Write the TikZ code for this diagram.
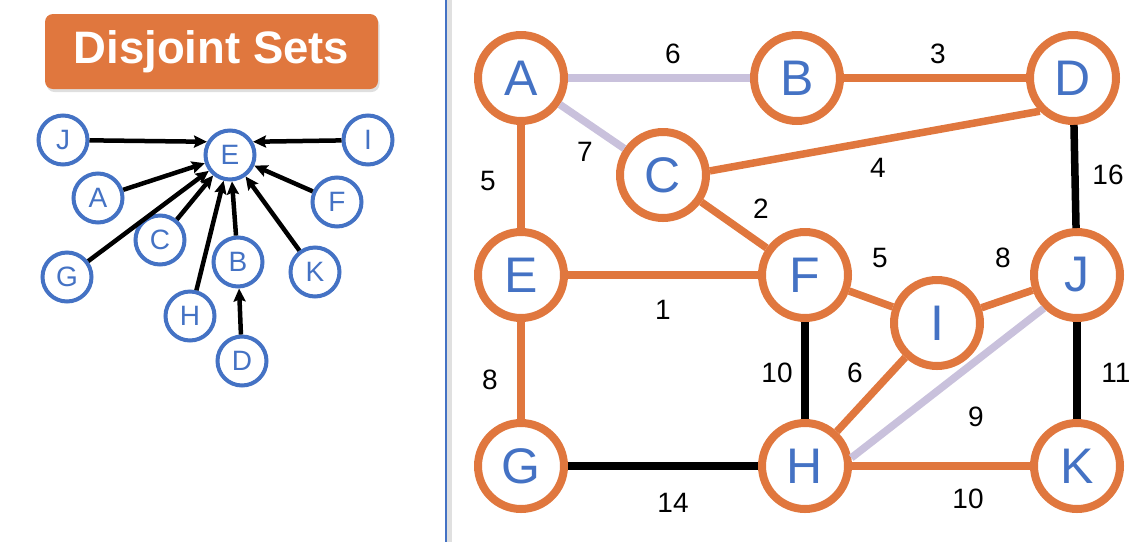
\documentclass[tikz,border=0pt]{standalone}
\usepackage{fontspec}
\setmainfont{Liberation Sans}
\usepackage{xcolor}
\usetikzlibrary{arrows.meta,shadows}
\definecolor{djorange}{RGB}{224,119,62}
\definecolor{djblue}{RGB}{68,114,196}
\definecolor{djlav}{RGB}{201,193,220}

\begin{document}
\begin{tikzpicture}[x=1pt,y=-1pt,>={Stealth[length=13pt,width=12pt,inset=2pt]},
  vtx/.style={circle,draw=djorange,line width=8pt,fill=white,minimum size=86pt,inner sep=0pt,
    text=djblue,font=\fontsize{50}{60}\selectfont},
  svtx/.style={circle,draw=djblue,line width=4pt,fill=white,minimum size=49pt,inner sep=0pt,
    text=djblue,font=\fontsize{28}{34}\selectfont},
  oedge/.style={draw=djorange,line width=7.5pt},
  bedge/.style={draw=black,line width=7.5pt},
  ledge/.style={draw=djlav,line width=7.5pt},
  sarrow/.style={->,line width=4.5pt},
  wlabel/.style={font=\fontsize{28}{32}\selectfont},
  titlebox/.style={fill=djorange,rounded corners=8pt,minimum width=333pt,minimum height=75pt,
    text=white,font=\fontsize{45.5}{52}\selectfont\bfseries,
    drop shadow={opacity=0.25,shadow xshift=1.5pt,shadow yshift=-3pt}}]
\useasboundingbox (0,0) rectangle (1148,542);
% separator
\draw[black!12,line width=5pt] (449,0) -- (449,542);
\draw[djblue,line width=2pt] (445.5,0) -- (445.5,542);
% left side: the set forest
\node[titlebox] (title) at (211.5,51.5) {Disjoint Sets};
\foreach \n/\x/\y in {J/63/140,E/230/155,I/368/140,A/98/198,F/337/202,C/160/240,
    B/238/262,K/315/272,G/67/277,H/190/316,D/242/361}
  \node[svtx] (s\n) at (\x,\y) {\n};
\draw[sarrow] (sJ) -- (sE.150);
\draw[sarrow] (sI) -- (sE.30);
\foreach \n in {A,G,C,H,B,K,F}
  \draw[sarrow] (s\n) -- (sE);
\draw[sarrow] (sD) -- (sB);
% right side: the weighted graph
\foreach \n/\x/\y in {A/521/78,B/797/78,D/1073/78,C/663/175,E/521/275,F/805/275,
    I/937/323,J/1077/275,G/521/466,H/805/466,K/1077/466}
  \node[vtx] (\n) at (\x,\y) {\n};
\foreach \a/\b in {A/B,A/C}
  \draw[ledge] (\a) -- (\b);
\draw[ledge] (H.10) -- (J.-135);
\foreach \a/\b in {B/D,A/E,C/F,E/F,F/I,I/J,E/G,H/I,H/K}
  \draw[oedge] (\a) -- (\b);
\draw[oedge] (C.5) -- (D.-135);
\foreach \a/\b in {D/J,F/H,J/K,G/H}
  \draw[bedge] (\a) -- (\b);
% weights
\foreach \t/\x/\y [count=\i] in {6/673/54,3/938/54,7/585/152,5/488/181,4/878/168,
    2/761/209,16/1108/175,5/880/258,8/1003/258,1/663/310,8/490/380,10/777/373,
    6/855/373,11/1116/373,9/976/417,14/673/503,10/968/499}
  \node[wlabel] (w\i) at (\x,\y) {\t};
\end{tikzpicture}
\end{document}
